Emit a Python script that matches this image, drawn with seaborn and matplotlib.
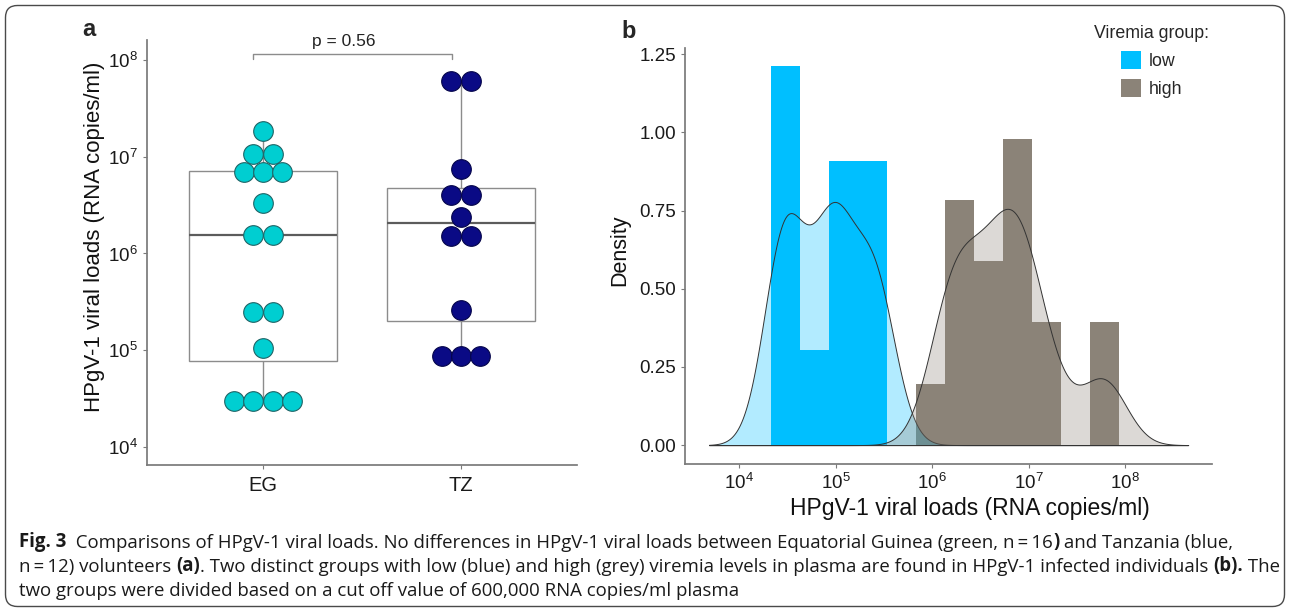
import numpy as np
import pandas as pd
import matplotlib
matplotlib.use("Agg")
import matplotlib.pyplot as plt
import seaborn as sns
from matplotlib.patches import Patch, FancyBboxPatch
from matplotlib.transforms import IdentityTransform
from matplotlib.ticker import NullLocator, FixedLocator, FormatStrFormatter

# ---------------- data ----------------
groups = ["EG", "TZ"]
eg_loads = [3.0e4, 3.0e4, 3.0e4, 3.0e4, 1.05e5, 2.4e5, 2.6e5, 1.5e6, 1.6e6,
            3.3e6, 6.7e6, 7.0e6, 7.2e6, 9.8e6, 1.15e7, 1.85e7]
tz_loads = [8.0e4, 9.5e4, 9.5e4, 2.6e5, 1.3e6, 1.8e6, 2.4e6, 3.9e6, 4.1e6,
            7.5e6, 6.0e7, 6.0e7]
p_value_text = "p = 0.56"
viremia_cutoff = 6.0e5
viremia_labels = ["low", "high"]
y_label = "HPgV-1 viral loads (RNA copies/ml)"

# ---------------- style ----------------
sns.set_theme(style="ticks")
plt.rcParams["font.family"] = ["Liberation Sans", "DejaVu Sans"]
plt.rcParams["axes.edgecolor"] = "#7a7a7a"
plt.rcParams["xtick.color"] = "#7a7a7a"
plt.rcParams["ytick.color"] = "#7a7a7a"
plt.rcParams["xtick.labelcolor"] = "#1a1a1a"
plt.rcParams["ytick.labelcolor"] = "#1a1a1a"

col_eg = "#00CED1"
col_tz = "#0A0A85"
col_low = "#00BFFF"
col_high = "#8B8378"

fig = plt.figure(figsize=(12.9, 6.12), dpi=100)
W, H = 1290, 612


def px_axes(left, top, right, bottom):
    return fig.add_axes([left / W, 1 - bottom / H, (right - left) / W, (bottom - top) / H])


# ---------------- panel a ----------------
axA = px_axes(147, 40, 577, 465)

df_a = pd.DataFrame({
    "group": ["EG"] * len(eg_loads) + ["TZ"] * len(tz_loads),
    "load": eg_loads + tz_loads,
})

sns.boxplot(data=df_a, x="group", y="load", order=groups, log_scale=True,
            width=0.75, color="white", linecolor="#8c8c8c", linewidth=1.0,
            showcaps=False, showfliers=False, whis=np.inf,
            medianprops=dict(color="#5c5c5c", linewidth=1.6), ax=axA)


def dot_stacks(values, binwidth=0.15):
    logs = np.sort(np.log10(values))
    stacks = []
    i = 0
    while i < len(logs):
        j = i
        while j + 1 < len(logs) and logs[j + 1] - logs[i] < binwidth:
            j += 1
        stacks.append(((logs[i] + logs[j]) / 2, j - i + 1))
        i = j + 1
    return stacks


dot_step = 0.097
rows = []
for gi, (g, vals) in enumerate(zip(groups, [eg_loads, tz_loads])):
    for center, m in dot_stacks(vals):
        for k in range(m):
            rows.append({"group": g, "xpos": gi + (k - (m - 1) / 2) * dot_step,
                         "ypos": 10 ** center})
dots = pd.DataFrame(rows)

sns.scatterplot(data=dots[dots.group == "EG"], x="xpos", y="ypos", color=col_eg,
                s=200, edgecolor="#1f6466", linewidth=0.8, ax=axA, zorder=4, legend=False)
sns.scatterplot(data=dots[dots.group == "TZ"], x="xpos", y="ypos", color=col_tz,
                s=200, edgecolor="#05054a", linewidth=0.8, ax=axA, zorder=4, legend=False)

axA.set_xlim(-0.585, 1.585)
axA.set_ylim(10 ** 3.814, 10 ** 8.206)
axA.yaxis.set_major_locator(FixedLocator([1e4, 1e5, 1e6, 1e7, 1e8]))
axA.yaxis.set_minor_locator(NullLocator())
axA.set_xticks([0, 1])
axA.set_xticklabels(groups)
axA.set_xlabel("")
axA.set_ylabel(y_label, fontsize=16, color="#111")
axA.yaxis.set_label_coords(-0.097, 0.536)
axA.tick_params(axis="y", labelsize=13.5, length=3, width=0.8)
axA.tick_params(axis="x", labelsize=14.5, length=3, width=0.8, pad=5)
for s in ["top", "right"]:
    axA.spines[s].set_visible(False)

# significance bracket
yb, yt = 10 ** 8.059, 10 ** 8.01
axA.plot([-0.05, -0.05, 0.955, 0.955], [yt, yb, yb, yt], color="#8c8c8c",
         lw=1.0, clip_on=False)
axA.text(0.41, 10 ** 8.14, p_value_text, ha="center", va="baseline",
         fontsize=12.5, color="#222")

# ---------------- panel b ----------------
axB = px_axes(685, 48, 1212, 464)
all_loads = eg_loads + tz_loads
low = [v for v in all_loads if v < viremia_cutoff]
high = [v for v in all_loads if v >= viremia_cutoff]


def nrd0_factor(kde):
    x = kde.dataset[0]
    sd = x.std(ddof=1)
    iqr = np.subtract(*np.percentile(x, [75, 25]))
    return 0.9 * min(sd, iqr / 1.34) * len(x) ** -0.2 / sd


sns.histplot(x=low, stat="density", log_scale=True, binwidth=0.3,
             binrange=(4.33, 5.53), color=col_low, alpha=1, linewidth=0,
             ax=axB, zorder=2)
sns.histplot(x=high, stat="density", log_scale=True, binwidth=0.3,
             binrange=(5.83, 7.93), color=col_high, alpha=1, linewidth=0,
             ax=axB, zorder=2)
for vals, c in [(low, col_low), (high, col_high)]:
    sns.kdeplot(x=vals, log_scale=True, fill=True, color=c, alpha=0.3,
                bw_method=nrd0_factor, cut=20, clip=(3.69, 8.65), gridsize=512,
                edgecolor="#333333", linewidth=0.7, ax=axB, zorder=3)

axB.set_xlim(10 ** 3.441, 10 ** 8.897)
axB.set_ylim(-0.0605, 1.27)
axB.xaxis.set_major_locator(FixedLocator([1e4, 1e5, 1e6, 1e7, 1e8]))
axB.xaxis.set_minor_locator(NullLocator())
axB.yaxis.set_major_locator(FixedLocator([0, 0.25, 0.5, 0.75, 1.0, 1.25]))
axB.yaxis.set_major_formatter(FormatStrFormatter("%.2f"))
axB.set_ylabel("Density", fontsize=15.5, color="#111")
axB.yaxis.set_label_coords(-0.104, 0.514)
axB.set_xlabel(y_label, fontsize=16.5, color="#111")
axB.xaxis.set_label_coords(0.541, -0.08)
axB.tick_params(axis="both", labelsize=13.5, length=3, width=0.8)
for s in ["top", "right"]:
    axB.spines[s].set_visible(False)

handles = [Patch(facecolor=col_low, edgecolor="none"),
           Patch(facecolor=col_high, edgecolor="none")]
leg = axB.legend(handles, viremia_labels, title="Viremia group:", loc="upper left",
                 bbox_to_anchor=(1078 / W, 1 - 9 / H), bbox_transform=fig.transFigure,
                 frameon=False, fontsize=12.8, title_fontsize=12.8, handlelength=1.15,
                 handleheight=1.2, handletextpad=0.4, labelspacing=0.5)

# panel letters
fig.text(82 / W, 1 - 30 / H, "a", fontsize=17, fontweight="bold", va="center")
fig.text(621 / W, 1 - 32 / H, "b", fontsize=17, fontweight="bold", va="center")

# ---------------- caption ----------------
cap_font = ["Open Sans", "DejaVu Sans"]
cap_size = 13.45
lines = [
    [("Fig. 3", "bold"),
     ("  Comparisons of HPgV-1 viral loads. No differences in HPgV-1 viral loads between "
      "Equatorial Guinea (green, n\u2009=\u200916", "normal"),
     (")", "bold"), (" and Tanzania (blue,", "normal")],
    [("n\u2009=\u200912) volunteers ", "normal"), ("(a)", "bold"),
     (". Two distinct groups with low (blue) and high (grey) viremia levels in plasma "
      "are found in HPgV-1 infected individuals ", "normal"),
     ("(b).", "bold"), (" The", "normal")],
    [("two groups were divided based on a cut off value of 600,000 RNA copies/ml plasma",
      "normal")],
]
bottoms = [552, 576, 600]
for runs, yb_px in zip(lines, bottoms):
    prev = None
    for txt, wt in runs:
        if prev is None:
            prev = fig.text(19 / W, 1 - yb_px / H, txt, fontsize=cap_size, fontweight=wt,
                            family=cap_font, va="bottom", ha="left", color="#1a1a1a")
        else:
            prev = fig.add_artist(matplotlib.text.Annotation(
                txt, xy=(1, 0), xycoords=prev, va="bottom", ha="left",
                fontsize=cap_size, fontweight=wt, family=cap_font, color="#1a1a1a"))

# border
border = FancyBboxPatch((5.5, 5.5), W - 11, H - 11,
                        boxstyle="round,pad=0,rounding_size=12",
                        transform=IdentityTransform(), facecolor="none",
                        edgecolor="#4a4a4a", linewidth=1.0)
fig.patches.append(border)

fig.savefig("out.png", dpi=100)
